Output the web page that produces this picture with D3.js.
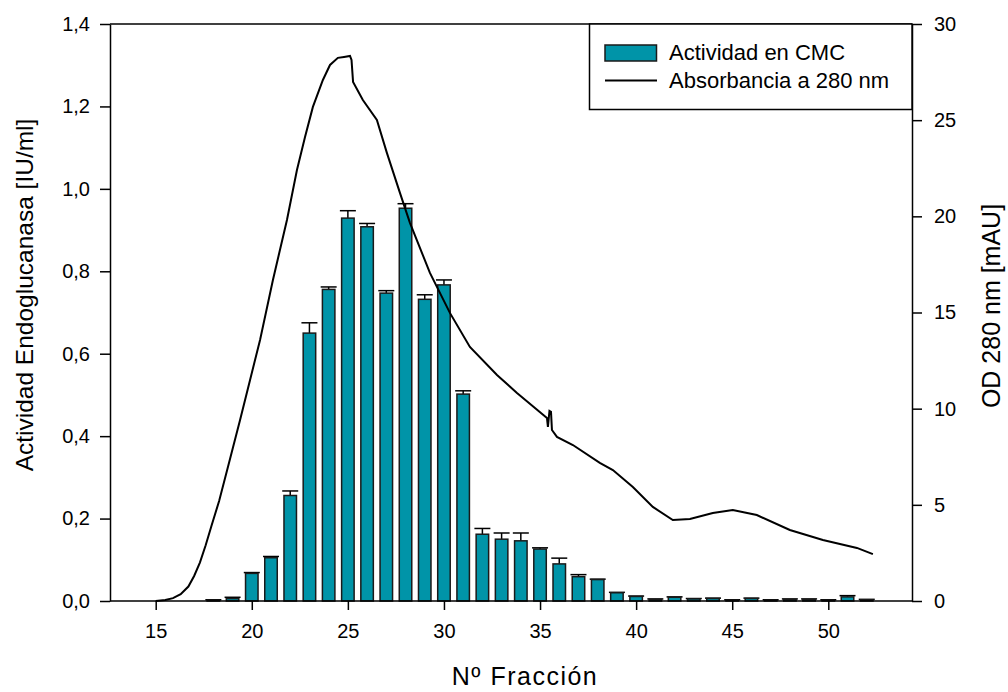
<!DOCTYPE html>
<html><head><meta charset="utf-8">
<script src="https://cdn.jsdelivr.net/npm/d3@7"></script>
<style>body{margin:0;background:#fff}svg{display:block}text{font-family:"Liberation Sans",Arial,sans-serif;fill:#000}</style>
</head><body>
<svg id="chart" width="1008" height="692"></svg>
<script>
const fractions = [18,19,20,21,22,23,24,25,26,27,28,29,30,31,32,33,34,35,36,37,38,39,40,41,42,43,44,45,46,47,48,49,50,51,52];
const activity  = [0.002,0.006,0.067,0.105,0.256,0.650,0.756,0.929,0.908,0.747,0.953,0.732,0.767,0.502,0.162,0.150,0.146,0.126,0.090,0.059,0.052,0.020,0.011,0.004,0.009,0.005,0.006,0.002,0.006,0.002,0.004,0.004,0.002,0.010,0.003];
const activityErr = [0.001,0.003,0.002,0.003,0.011,0.025,0.006,0.018,0.008,0.006,0.011,0.011,0.012,0.008,0.014,0.015,0.019,0.003,0.014,0.005,0.001,0.001,0.001,0.001,0.001,0.001,0.001,0.001,0.001,0.001,0.001,0.001,0.001,0.003,0.001];
const absFraction = [15.0,15.5,15.9,16.3,16.7,17.0,17.3,17.6,17.9,18.3,18.87,19.39,19.91,20.43,21.10,21.83,22.35,22.77,23.18,23.70,24.07,24.48,24.80,25.11,25.19,25.27,25.78,26.51,27.03,27.71,28.23,29.27,30.31,31.35,32.76,33.80,35.36,35.41,35.49,35.57,35.62,35.88,36.71,38.11,38.79,39.83,40.87,41.91,42.80,43.99,45.03,46.28,48.00,49.72,51.49,52.32];
const absValue = [0,0.05,0.15,0.35,0.75,1.3,2.0,2.9,3.9,5.2,7.4,9.41,11.49,13.57,16.69,19.81,22.41,24.13,25.69,27.09,27.87,28.24,28.29,28.34,28.13,26.99,26.05,25.01,23.30,21.22,19.66,17.06,14.98,13.21,11.75,10.82,9.52,9.05,9.88,9.83,8.89,8.53,8.11,7.18,6.81,5.93,4.89,4.21,4.26,4.58,4.73,4.47,3.69,3.17,2.76,2.44];
const xTicks = [15,20,25,30,35,40,45,50];
const yLeftTicks = [0,0.2,0.4,0.6,0.8,1.0,1.2,1.4];
const yRightTicks = [0,5,10,15,20,25,30];
const xTitle = "Nº Fracción";
const yLeftTitle = "Actividad Endoglucanasa [IU/ml]";
const yRightTitle = "OD 280 nm [mAU]";
const legendLabels = ["Actividad en CMC","Absorbancia a 280 nm"];

const L = 110, R = 912, T = 24, B = 601;
const svg = d3.select("#chart");
const x = d3.scaleLinear().domain([15,50]).range([155.7,828.3]);
const yL = d3.scaleLinear().domain([0,1.4]).range([B,T]);
const yR = d3.scaleLinear().domain([0,30]).range([B,T]);
const teal = "#0094a8";
const fmt = d => d3.format(".1f")(d).replace(".", ",");

// bars
const bw = 12.5;
const g = svg.append("g");
fractions.forEach((f,i) => {
  const v = activity[i], e = activityErr[i];
  g.append("line").attr("x1",x(f)).attr("x2",x(f)).attr("y1",yL(v)).attr("y2",yL(v+e)).attr("stroke","#000").attr("stroke-width",1.5);
  g.append("line").attr("x1",x(f)-8).attr("x2",x(f)+8).attr("y1",yL(v+e)).attr("y2",yL(v+e)).attr("stroke","#000").attr("stroke-width",1.5);
  g.append("rect").attr("x",x(f)-bw/2).attr("width",bw).attr("y",yL(v)).attr("height",B-yL(v))
    .attr("fill",teal).attr("stroke","#1a1a1a").attr("stroke-width",1.5);
});

// line
svg.append("path").datum(absFraction.map((f,i)=>[f,absValue[i]]))
  .attr("d", d3.line().x(d=>x(d[0])).y(d=>yR(d[1])))
  .attr("fill","none").attr("stroke","#000").attr("stroke-width",2);

// frame top
svg.append("line").attr("x1",L).attr("x2",R).attr("y1",T).attr("y2",T).attr("stroke","#000").attr("stroke-width",1.5);

// axes
const ax = svg.append("g").attr("transform",`translate(0,${B})`)
  .call(d3.axisBottom(x).tickValues(xTicks).tickSize(9).tickPadding(14).tickSizeOuter(0));
ax.select(".domain").attr("d",`M${L},0H${R}`);
const ayl = svg.append("g").attr("transform",`translate(${L},0)`)
  .call(d3.axisLeft(yL).tickValues(yLeftTicks).tickFormat(fmt).tickSize(10).tickPadding(10).tickSizeOuter(0));
const ayr = svg.append("g").attr("transform",`translate(${R},0)`)
  .call(d3.axisRight(yR).tickValues(yRightTicks).tickSize(10).tickPadding(12).tickSizeOuter(0));
[ax,ayl,ayr].forEach(a=>{
  a.selectAll("path,line").attr("stroke","#000").attr("stroke-width",1.5);
  a.selectAll("text").attr("font-size",20).attr("font-family","Liberation Sans, Arial, sans-serif");
});

// titles
svg.append("text").attr("x",525).attr("y",685).attr("text-anchor","middle").attr("font-size",25).attr("letter-spacing",1.5).text(xTitle);
svg.append("text").attr("transform",`translate(33,${295}) rotate(-90)`).attr("text-anchor","middle").attr("font-size",24.5).text(yLeftTitle);
svg.append("text").attr("transform",`translate(1000,${306}) rotate(-90)`).attr("text-anchor","middle").attr("font-size",25).text(yRightTitle);

// legend
svg.append("rect").attr("x",589.5).attr("y",T).attr("width",R-589.5).attr("height",109.5-T).attr("fill","#fff").attr("stroke","#000").attr("stroke-width",1.5);
svg.append("rect").attr("x",605).attr("y",45).attr("width",51.5).attr("height",16).attr("fill",teal).attr("stroke","#1a1a1a").attr("stroke-width",1.5);
svg.append("line").attr("x1",605).attr("x2",657).attr("y1",80.5).attr("y2",80.5).attr("stroke","#000").attr("stroke-width",2);
svg.append("text").attr("x",669).attr("y",60).attr("font-size",22).text(legendLabels[0]);
svg.append("text").attr("x",669).attr("y",88).attr("font-size",22).text(legendLabels[1]);
</script>
</body></html>
